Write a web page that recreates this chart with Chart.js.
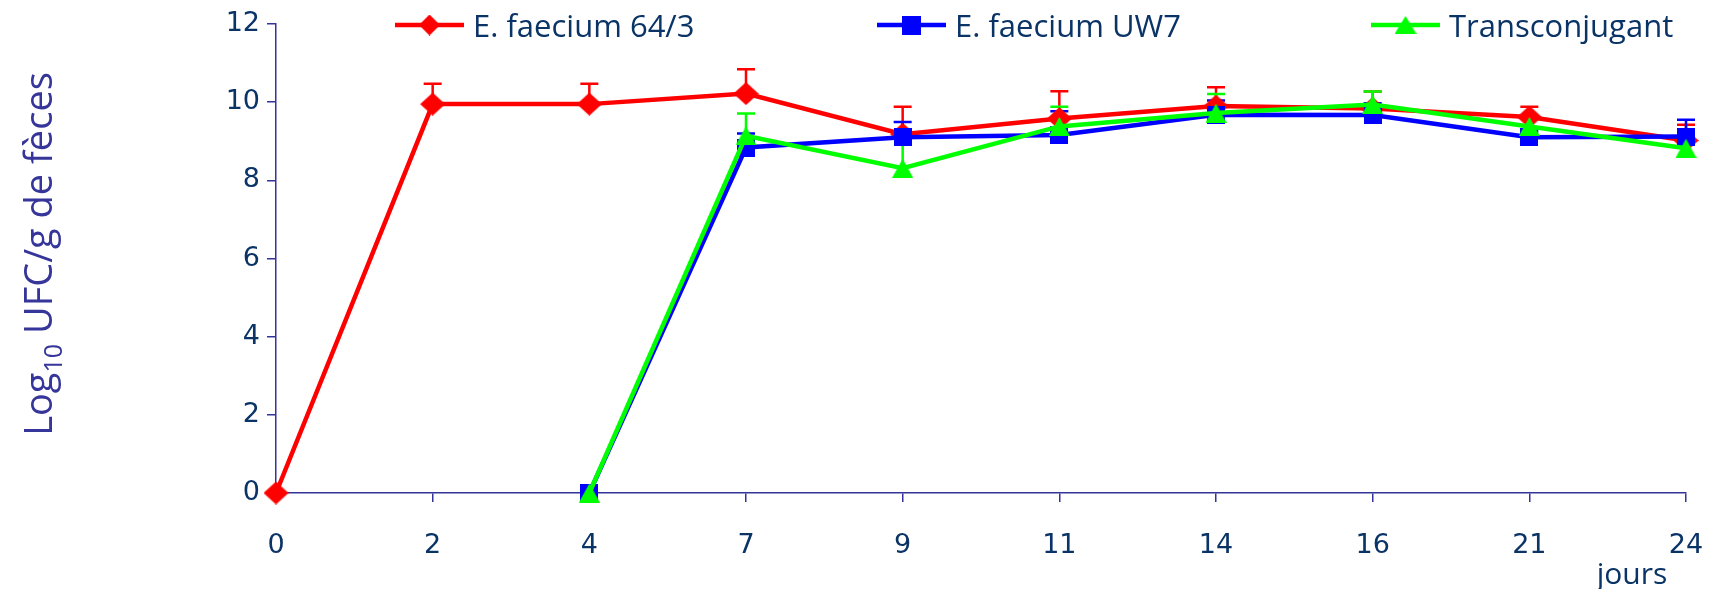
<!DOCTYPE html>
<html>
<head>
<meta charset="utf-8">
<script src="https://cdn.jsdelivr.net/npm/chart.js@4/dist/chart.umd.min.js"></script>
<style>
  html, body { margin: 0; padding: 0; background: #ffffff; }
  #wrap { width: 1713px; height: 589px; }
</style>
</head>
<body>
<div id="wrap"><canvas id="c" width="1713" height="589"></canvas></div>
<script>
// Sampling days (x categories)
const days = ['0', '2', '4', '7', '9', '11', '14', '16', '21', '24'];

// Log10 CFU per gram of faeces, with the upper error (SD) for each point
const strain643    = [0, 9.95, 9.95, 10.22, 9.18, 9.58, 9.9, 9.84, 9.62, 9.02];
const strain643Err = [0, 0.52, 0.52, 0.62, 0.7, 0.7, 0.48, 0.43, 0.26, 0.4];

const strainUW7    = [null, null, 0, 8.84, 9.1, 9.16, 9.68, 9.67, 9.1, 9.12];
const strainUW7Err = [0, 0, 0, 0.36, 0.39, 0.61, 0.36, 0.3, 0.15, 0.43];

const transconj    = [null, null, 0, 9.14, 8.31, 9.38, 9.72, 9.94, 9.38, 8.82];
const transconjErr = [0, 0, 0, 0.57, 0.8, 0.5, 0.49, 0.33, 0.2, 0.38];

const seriesNames = ['E. faecium 64/3', 'E. faecium UW7', 'Transconjugant'];
const yTicks = [0, 2, 4, 6, 8, 10, 12];

const AXIS = '#333399';
const TEXT = '#0a3366';
const TITLE = '#35359a';

// Solid marker shapes rendered once onto small canvases
function makeMarker(shape, color, w, h) {
  const c = document.createElement('canvas');
  c.width = w; c.height = h;
  const g = c.getContext('2d');
  g.fillStyle = color;
  g.beginPath();
  if (shape === 'diamond') {
    g.moveTo(w / 2, 0); g.lineTo(w, h / 2); g.lineTo(w / 2, h); g.lineTo(0, h / 2);
  } else if (shape === 'square') {
    g.rect(0, 0, w, h);
  } else {
    g.moveTo(w / 2, 0); g.lineTo(w, h); g.lineTo(0, h);
  }
  g.closePath();
  g.fill();
  return c;
}

const red = '#ff0000', blue = '#0000ff', green = '#00ff00';

function series(label, data, errors, color, marker, legendMarker, order) {
  return {
    label, data, errors, order,
    borderColor: color,
    backgroundColor: color,
    borderWidth: 4.5,
    pointStyle: marker,
    pointRadius: 12,
    pointHoverRadius: 12,
    legendMarker,
    tension: 0,
    clip: false
  };
}

// Vertical error bars with a cap on the upper end
const errorBars = {
  id: 'errorBars',
  beforeDatasetsDraw(chart) {
    const ctx = chart.ctx;
    const ys = chart.scales.y;
    chart.data.datasets.forEach((ds, i) => {
      const meta = chart.getDatasetMeta(i);
      ctx.save();
      ctx.strokeStyle = ds.borderColor;
      ctx.lineWidth = 2.5;
      meta.data.forEach((pt, j) => {
        const v = ds.data[j];
        const e = ds.errors[j];
        if (v === null || !e) return;
        const y0 = ys.getPixelForValue(v);
        const y1 = ys.getPixelForValue(v + e);
        ctx.beginPath();
        ctx.moveTo(pt.x, y0);
        ctx.lineTo(pt.x, y1);
        ctx.moveTo(pt.x - 9, y1);
        ctx.lineTo(pt.x + 9, y1);
        ctx.stroke();
      });
      ctx.restore();
    });
  }
};

// Legend row, vertical axis title and the day unit label
const annotations = {
  id: 'annotations',
  afterDraw(chart) {
    const ctx = chart.ctx;
    const starts = [395, 877, 1371];
    chart.data.datasets.forEach((ds, i) => {
      const x0 = starts[i], y0 = 25;
      ctx.save();
      ctx.strokeStyle = ds.borderColor;
      ctx.lineWidth = 4.5;
      ctx.beginPath();
      ctx.moveTo(x0, y0);
      ctx.lineTo(x0 + 69, y0);
      ctx.stroke();
      const m = ds.legendMarker;
      ctx.drawImage(m, x0 + 34.5 - m.width / 2, y0 - m.height / 2);
      ctx.fillStyle = TEXT;
      ctx.font = '31px "Open Sans"';
      ctx.textBaseline = 'alphabetic';
      ctx.textAlign = 'left';
      ctx.fillText(ds.label, x0 + 78, 37);
      ctx.restore();
    });

    // Rotated y-axis title with subscript
    ctx.save();
    const mainFont = '38px "Open Sans"';
    const subFont = '25px "Open Sans"';
    ctx.font = mainFont;
    const wLog = ctx.measureText('Log').width;
    const wRest = ctx.measureText(' UFC/g de fèces').width;
    ctx.font = subFont;
    const wSub = ctx.measureText('10').width;
    const total = wLog + wSub + wRest;
    ctx.translate(52, 254);
    ctx.rotate(-Math.PI / 2);
    ctx.fillStyle = TITLE;
    ctx.textBaseline = 'alphabetic';
    ctx.textAlign = 'left';
    let x = -total / 2;
    ctx.font = mainFont;
    ctx.fillText('Log', x, 0);
    x += wLog;
    ctx.font = subFont;
    ctx.fillText('10', x, 10);
    x += wSub;
    ctx.font = mainFont;
    ctx.fillText(' UFC/g de fèces', x, 0);
    ctx.restore();

    ctx.save();
    ctx.fillStyle = TEXT;
    ctx.font = '30px "Open Sans"';
    ctx.textAlign = 'center';
    ctx.textBaseline = 'alphabetic';
    ctx.fillText('jours', 1632, 584);
    ctx.restore();
  }
};

const chart = new Chart(document.getElementById('c'), {
  type: 'line',
  data: {
    labels: days,
    datasets: [
      series(seriesNames[0], strain643, strain643Err, red,
             makeMarker('diamond', red, 25, 23), makeMarker('diamond', red, 21, 21), 3),
      series(seriesNames[1], strainUW7, strainUW7Err, blue,
             makeMarker('square', blue, 18, 18), makeMarker('square', blue, 19, 19), 2),
      series(seriesNames[2], transconj, transconjErr, green,
             makeMarker('triangle', green, 21, 19), makeMarker('triangle', green, 22, 18), 1)
    ]
  },
  options: {
    responsive: false,
    animation: false,
    devicePixelRatio: 1,
    events: [],
    layout: { padding: { top: 24, right: 27, bottom: 0, left: 0 } },
    plugins: {
      legend: { display: false },
      tooltip: { enabled: false },
      title: { display: false }
    },
    scales: {
      x: {
        type: 'category',
        offset: false,
        grid: { display: true, drawOnChartArea: false, drawTicks: true, tickLength: 9, color: AXIS, lineWidth: 1.5 },
        border: { display: true, color: AXIS, width: 1.5 },
        ticks: {
          color: TEXT, font: { family: 'DejaVu Sans', size: 27 },
          padding: 28, maxRotation: 0, autoSkip: false
        },
        afterFit(s) { s.height = 96; s.paddingLeft = 0; s.paddingRight = 0; }
      },
      y: {
        min: 0, max: 12,
        grid: { display: true, drawOnChartArea: false, drawTicks: true, tickLength: 9, color: AXIS, lineWidth: 1.5 },
        border: { display: true, color: AXIS, width: 1.5 },
        ticks: { color: TEXT, font: { family: 'DejaVu Sans', size: 27 }, padding: 7, stepSize: 2 },
        afterBuildTicks(s) { s.ticks = yTicks.map(v => ({ value: v })); },
        afterFit(s) { s.width = 276; s.paddingTop = 0; s.paddingBottom = 0; }
      }
    }
  },
  plugins: [errorBars, annotations]
});
</script>
</body>
</html>
